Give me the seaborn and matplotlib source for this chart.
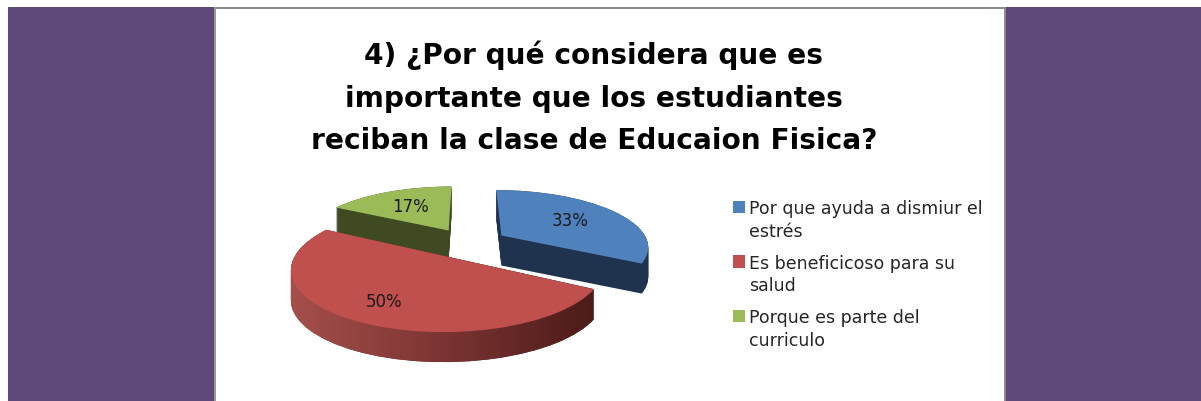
import numpy as np
import seaborn as sns
import matplotlib.pyplot as plt
from matplotlib.colors import LinearSegmentedColormap
from matplotlib.patches import Rectangle
from matplotlib.path import Path
from matplotlib.transforms import Affine2D, Transform

title = "4) ¿Por qué considera que es\nimportante que los estudiantes\nreciban la clase de Educaion Fisica?"
labels = ["Por que ayuda a dismiur el\nestrés", "Es beneficicoso para su\nsalud", "Porque es parte del\ncurriculo"]
values = [33, 50, 17]
top_colors = ["#4f81bd", "#c0504d", "#9bbb59"]
side_colors = ["#1f334f", "#6e2c2a", "#3f4a22"]

W, H = 1201, 402
cx, cy = 468, 244   # pie centre in pixels
a, b = 147, 56      # pixels per data unit
tilt = 0.18
depth = 30          # pixels
explode = [0.27, 0.27, 0.27]


# makes the far side of the pie smaller, like the old excel 3d pies
class Tilt(Transform):
    input_dims = 2
    output_dims = 2

    def transform_non_affine(self, xy):
        xy = np.asarray(xy, dtype=float)
        return xy / (1 + tilt * xy[:, 1:2])


sns.set_theme(style="white")
plt.rcParams["font.family"] = ["DejaVu Sans"]

fig = plt.figure(figsize=(W / 100, H / 100), dpi=100, facecolor="white")


def px_box(x0, y0, x1, y1, color):
    fig.patches.append(Rectangle((x0 / W, 1 - y1 / H), (x1 - x0) / W, (y1 - y0) / H,
                                 transform=fig.transFigure, color=color, lw=0))


px_box(8, 8, 214, H, "#5f497a")
px_box(1006, 8, W, H, "#5f497a")
px_box(214, 8, 1006, 10, "#8c8c8c")
px_box(214, 8, 216, H, "#9a9a9a")
px_box(1004, 8, 1006, H, "#8c8c8c")

ax = fig.add_axes([0, 0, 1, 1], facecolor="none")
persp = Tilt()
dy = depth / b

# side of the slices: same pie pushed down a bit at a time
red_paths = []
for d in np.linspace(dy, 0, depth + 1):
    wedges, _ = ax.pie(values, explode=explode, startangle=90, counterclock=False, colors=side_colors,
                       wedgeprops={"linewidth": 0, "zorder": 1})
    shift = Affine2D().translate(0, -d)
    for w in wedges:
        w.set_transform(persp + shift + ax.transData)
    red_paths.append(shift.transform_path(persp.transform_path(wedges[1].get_path())))

# red side has a gradient
cmap = LinearSegmentedColormap.from_list("side", ["#a8514d", "#7c3533", "#4a1a18"])
grad = ax.imshow(np.linspace(0, 1, 256)[None, :], cmap=cmap, aspect="auto", zorder=2,
                 extent=[(280 - cx) / a, (600 - cx) / a, -3, 3])
grad.set_clip_path(Path.make_compound_path(*red_paths), ax.transData)

wedges, _, pct = ax.pie(values, explode=explode, startangle=90, counterclock=False, colors=top_colors,
                        autopct="%.0f%%", pctdistance=0.6,
                        wedgeprops={"linewidth": 0, "zorder": 3},
                        textprops={"fontsize": 12, "color": "#1a1a1a", "zorder": 4})
for w in wedges:
    w.set_transform(persp + ax.transData)
for t in pct:
    t.set_transform(persp + ax.transData)
# 50% sits further out than the others
x50, y50 = pct[1].get_position()
pct[1].set_position((x50 * 1.15, y50 * 1.15))

ax.set_xlim(-cx / a, (W - cx) / a)
ax.set_ylim(-(H - cy) / b, cy / b)
ax.set_aspect("auto")
ax.set_axis_off()

fig.text(594 / W, 1 - 98 / H, title, ha="center", va="center", fontsize=20.2, fontweight="bold",
         color="black", linespacing=1.66)

leg = ax.legend(wedges, labels, loc="upper left", bbox_to_anchor=(733 / W, 1 - 200 / H),
                bbox_transform=fig.transFigure, frameon=False, fontsize=12.5, handlelength=0.7,
                handleheight=0.7, handletextpad=0.23, labelspacing=0.8, borderpad=0, borderaxespad=0)
for h in leg.legend_handles:
    h.set_y(h.get_y() + 9.5)
for t in leg.get_texts():
    t.set_color("#262626")
    t.set_linespacing(1.33)

fig.savefig("out.png", dpi=100)
